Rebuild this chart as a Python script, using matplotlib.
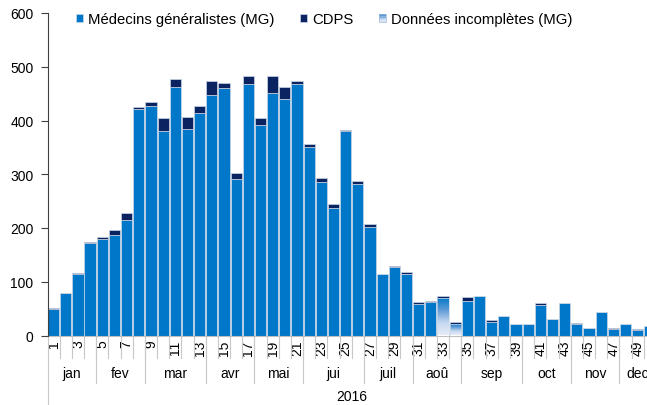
import numpy as np
import matplotlib.pyplot as plt
from matplotlib.patches import Rectangle, Patch
from matplotlib.legend_handler import HandlerBase
from matplotlib.colors import LinearSegmentedColormap

plt.rcParams['font.family'] = ['Liberation Sans', 'DejaVu Sans']
plt.rcParams['font.size'] = 10

weeks = list(range(1, 51))
mg = [50, 79, 114, 172, 180, 187, 214, 422, 427, 381, 462, 384, 414, 448, 460, 292, 468,
      391, 452, 440, 467, 351, 286, 237, 380, 281, 201, 114, 128, 115, 58, 63, 0, 0,
      64, 73, 26, 36, 22, 22, 57, 31, 61, 22, 14, 44, 12, 22, 10, 18]
mg_incomplete = [0] * 32 + [69, 21] + [0] * 16
cdps = [1, 0, 3, 2, 4, 9, 14, 4, 7, 23, 15, 23, 13, 25, 10, 11, 15, 14, 31, 22, 6, 5,
        7, 7, 2, 7, 6, 0, 2, 3, 4, 2, 5, 4, 7, 0, 3, 0, 0, 0, 4, 0, 0, 2, 0, 0, 2, 0, 2, 0]
months = ['jan', 'fev', 'mar', 'avr', 'mai', 'jui', 'juil', 'aoû', 'sep', 'oct', 'nov', 'dec']
month_first_week = [1, 5, 9, 14, 18, 22, 27, 31, 35, 40, 44, 48]
year_label = '2016'

c_mg = '#0077C8'
c_cdps = '#0B2461'
c_edge = '#cbd8e6'
grad_cmap = LinearSegmentedColormap.from_list('inc', ['#e6ecf8', '#c4d7ef', '#5d9ad6', '#0077C8'])


class HandlerGradient(HandlerBase):
    # legend box drawn as a few stacked strips to fake the gradient
    def create_artists(self, legend, orig_handle, xdescent, ydescent, width, height, fontsize, trans):
        arts = []
        n = 6
        for i in range(n):
            r = Rectangle((-xdescent, -ydescent + height * i / n), width, height / n,
                          facecolor=grad_cmap((i + 1) / n * 0.8), edgecolor='none', transform=trans)
            arts.append(r)
        arts.append(Rectangle((-xdescent, -ydescent), width, height, facecolor='none',
                              edgecolor='#9db8d8', lw=0.5, transform=trans))
        return arts


fig = plt.figure(figsize=(6.47, 4.06), dpi=100)
ax = fig.add_axes([47.5 / 647, (406 - 336.5) / 406, 608.5 / 647, 322.5 / 406])

w = 0.92
x = np.array(weeks)
mg_arr = np.array(mg)
inc_arr = np.array(mg_incomplete)
base = mg_arr + inc_arr
ax.bar(x, mg_arr, width=w, color=c_mg, edgecolor=c_edge, linewidth=0.5, zorder=2)
ax.bar(x, cdps, width=w, bottom=base, color=c_cdps, edgecolor=c_edge, linewidth=0.5, zorder=2)

# gradient bars for incomplete data
grad = np.linspace(0, 1, 100).reshape(-1, 1)
for xi, h in zip(x, inc_arr):
    if h <= 0:
        continue
    bar = ax.bar(xi, h, width=w, facecolor='none', edgecolor=c_edge, linewidth=0.5, zorder=3)[0]
    im = ax.imshow(grad, cmap=grad_cmap, origin='lower', aspect='auto',
                   extent=[xi - w / 2, xi + w / 2, 0, h], zorder=2)
    im.set_clip_path(bar)

ax.set_xlim(0.5, 50.5)
ax.set_ylim(0, 600)
ax.set_yticks(range(0, 601, 100))
ax.set_xticks([wk for wk in weeks if wk % 2 == 1])
ax.set_xticklabels([str(wk) for wk in weeks if wk % 2 == 1], rotation=90, va='top', ha='center')
ax.tick_params(axis='x', length=0, pad=3)
ax.tick_params(axis='y', length=5, pad=5, color='#404040', direction='out')
for s in ['top', 'right']:
    ax.spines[s].set_visible(False)
ax.spines['left'].set_color('#404040')
ax.spines['bottom'].set_color('#bfbfbf')
ax.spines['left'].set_zorder(4)

# category axis lines and labels
trans = ax.get_xaxis_transform()
ax_h = 322.5
line_c = '#c8c8c8'
for wk in weeks:
    ax.plot([wk + 0.5, wk + 0.5], [0, -22 / ax_h], transform=trans, color=line_c, lw=0.8, clip_on=False)
ax.plot([0.5, 0.5], [0, -75 / ax_h], transform=trans, color=line_c, lw=0.8, clip_on=False)
bounds = month_first_week + [51]
for i, m in enumerate(months):
    lo, hi = bounds[i] - 0.5, min(bounds[i + 1] - 0.5, 50.5)
    if i > 0:
        ax.plot([lo, lo], [0, -47 / ax_h], transform=trans, color=line_c, lw=0.8, clip_on=False)
    ax.text((lo + hi) / 2, -37.5 / ax_h, m, transform=trans, ha='center', va='center')
ax.text(25.5, -61 / ax_h, year_label, transform=trans, ha='center', va='center')

handles = [Patch(facecolor=c_mg, edgecolor=c_edge, lw=0.5),
           Patch(facecolor=c_cdps, edgecolor=c_edge, lw=0.5),
           Patch(facecolor='#c4d7ef')]
labels = ['Médecins généralistes (MG)', 'CDPS', 'Données incomplètes (MG)']
fig.legend(handles, labels, loc='center left', bbox_to_anchor=(76 / 647, 1 - 20 / 406),
           ncol=3, frameon=False, fontsize=10.7, handlelength=0.45, handleheight=0.45,
           handletextpad=0.35, columnspacing=1.75, borderpad=0, borderaxespad=0,
           handler_map={handles[2]: HandlerGradient()})

fig.savefig('out.png', dpi=100)
